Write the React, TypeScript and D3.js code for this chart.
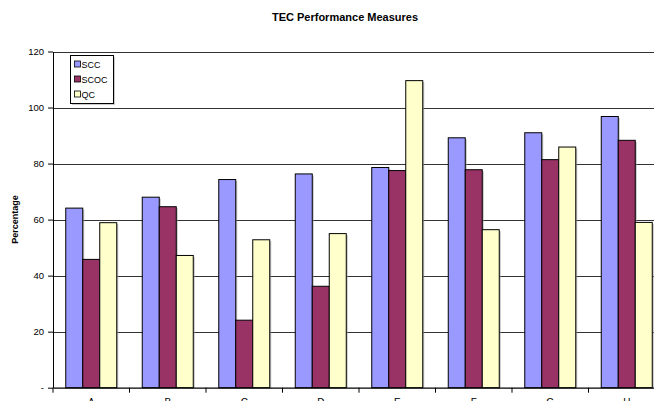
import { useEffect, useRef } from "react";
import * as d3 from "d3";

const categories = ["A", "B", "C", "D", "E", "F", "G", "H"];
const seriesNames = ["SCC", "SCOC", "QC"];
const scc = [64.1, 68.0, 74.3, 76.3, 78.6, 89.2, 91.0, 96.8];
const scoc = [45.8, 64.6, 24.1, 36.2, 77.5, 77.8, 81.4, 88.3];
const qc = [58.9, 47.2, 52.8, 55.0, 109.6, 56.4, 85.9, 59.0];
const yTicks = [0, 20, 40, 60, 80, 100, 120];

const seriesColors = ["#9999FF", "#993366", "#FFFFCC"];
const FONT = "'Liberation Sans', Arial, sans-serif";

const App = () => {
  const svgRef = useRef<SVGSVGElement>(null);

  useEffect(() => {
    if (!svgRef.current) return;
    const width = 654;
    const height = 401;
    const left = 53;
    const right = 665; // plot runs past the visible edge
    const top = 51.5;
    const bottom = 387.7;

    const svg = d3.select(svgRef.current);
    svg.selectAll("*").remove();

    const x0 = d3.scaleBand().domain(categories).range([left, right]).padding(0);
    const bw = x0.bandwidth();
    const x1 = d3
      .scaleBand()
      .domain(seriesNames)
      .range([bw / 6, bw - bw / 6])
      .padding(0);
    const y = d3.scaleLinear().domain([0, 120]).range([bottom, top]);

    // Title
    svg
      .append("text")
      .attr("x", 345)
      .attr("y", 21)
      .attr("text-anchor", "middle")
      .style("font-family", FONT)
      .style("font-size", "11px")
      .style("font-weight", "bold")
      .text("TEC Performance Measures");

    // Grid lines
    svg
      .append("g")
      .selectAll("line")
      .data(yTicks.filter((t) => t > 0))
      .join("line")
      .attr("x1", left)
      .attr("x2", width)
      .attr("y1", (d) => Math.round(y(d)) + 0.5)
      .attr("y2", (d) => Math.round(y(d)) + 0.5)
      .attr("stroke", "#333")
      .attr("stroke-width", 1);

    // Bars
    const data = categories.map((c, i) => ({ cat: c, vals: [scc[i], scoc[i], qc[i]] }));
    const groups = svg
      .append("g")
      .selectAll("g")
      .data(data)
      .join("g")
      .attr("transform", (d) => `translate(${x0(d.cat)},0)`);

    seriesNames.forEach((name, si) => {
      groups
        .append("rect")
        .attr("x", (x1(name) || 0) + 1.5)
        .attr("y", (d) => y(d.vals[si]) + 1.5)
        .attr("width", x1.bandwidth())
        .attr("height", (d) => bottom - y(d.vals[si]) - 1.5)
        .attr("fill", "#999")
        .attr("opacity", 0.6);
    });
    seriesNames.forEach((name, si) => {
      groups
        .append("rect")
        .attr("x", x1(name) || 0)
        .attr("y", (d) => y(d.vals[si]))
        .attr("width", x1.bandwidth())
        .attr("height", (d) => bottom - y(d.vals[si]))
        .attr("fill", seriesColors[si])
        .attr("stroke", "#000")
        .attr("stroke-width", 1);
    });

    // Y axis
    const yAxis = svg
      .append("g")
      .attr("transform", `translate(${left},0)`)
      .call(
        d3
          .axisLeft(y)
          .tickValues(yTicks)
          .tickSize(5)
          .tickSizeOuter(0)
          .tickPadding(4)
          .tickFormat((d) => (d === 0 ? "-" : String(d)))
      );
    yAxis.select(".domain").attr("stroke", "#000");
    yAxis.selectAll("text").style("font-family", FONT).style("font-size", "9.5px").attr("fill", "#000");

    // X axis
    const xAxis = svg
      .append("g")
      .attr("transform", `translate(0,${bottom})`)
      .call(d3.axisBottom(x0).tickSize(0).tickSizeOuter(0).tickPadding(11));
    xAxis.select(".domain").attr("stroke", "#000").attr("stroke-width", 1.2);
    xAxis.selectAll("text").style("font-family", FONT).style("font-size", "10px").attr("fill", "#000");
    svg
      .append("g")
      .selectAll("line")
      .data(categories)
      .join("line")
      .attr("x1", (d) => (x0(d) || 0) + bw)
      .attr("x2", (d) => (x0(d) || 0) + bw)
      .attr("y1", bottom)
      .attr("y2", bottom + 5)
      .attr("stroke", "#000");
    svg
      .append("line")
      .attr("x1", left)
      .attr("x2", left)
      .attr("y1", bottom)
      .attr("y2", bottom + 5)
      .attr("stroke", "#000");

    // Y axis title
    svg
      .append("text")
      .attr("transform", `translate(18,${(top + bottom) / 2}) rotate(-90)`)
      .attr("text-anchor", "middle")
      .style("font-family", FONT)
      .style("font-size", "9px")
      .style("font-weight", "bold")
      .text("Percentage");

    // Legend
    const legend = svg.append("g").attr("transform", "translate(70.5,55.5)");
    legend.append("rect").attr("x", 1.5).attr("y", 1.5).attr("width", 43).attr("height", 48).attr("fill", "#999").attr("opacity", 0.5);
    legend.append("rect").attr("width", 43).attr("height", 48).attr("fill", "#fff").attr("stroke", "#000");
    seriesNames.forEach((name, i) => {
      const ry = 9 + i * 15;
      legend
        .append("rect")
        .attr("x", 4)
        .attr("y", ry - 3.5)
        .attr("width", 6)
        .attr("height", 6)
        .attr("fill", seriesColors[i])
        .attr("stroke", "#000")
        .attr("stroke-width", 0.8);
      legend
        .append("text")
        .attr("x", 11)
        .attr("y", ry + 3)
        .style("font-family", FONT)
        .style("font-size", "9px")
        .text(name);
    });
  }, []);

  return (
    <svg
      ref={svgRef}
      width={654}
      height={401}
      style={{ position: "absolute", left: 0, top: 0, background: "#fff" }}
    />
  );
};

export default App;
